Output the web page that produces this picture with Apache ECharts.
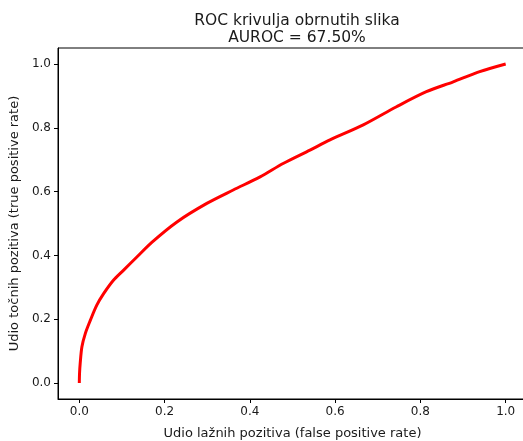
<!DOCTYPE html>
<html>
<head>
<meta charset="utf-8">
<script src="https://cdn.jsdelivr.net/npm/echarts@6/dist/echarts.min.js"></script>
<style>
html,body{margin:0;padding:0;background:#fff;}
#chart{width:523px;height:441px;}
</style>
</head>
<body>
<div id="chart"></div>
<script>
const titleLines = ["ROC krivulja obrnutih slika", "AUROC = 67.50%"];
const xAxisName = "Udio lažnih pozitiva (false positive rate)";
const yAxisName = "Udio točnih pozitiva (true positive rate)";
const fpr = [0, 0.0005, 0.002, 0.006, 0.014, 0.026, 0.041, 0.057, 0.08, 0.104, 0.135, 0.17, 0.229, 0.299, 0.361, 0.424, 0.478, 0.541, 0.588, 0.666, 0.744, 0.814, 0.877, 0.939, 1.0];
const tpr = [0, 0.03, 0.061, 0.113, 0.155, 0.197, 0.244, 0.28, 0.322, 0.354, 0.395, 0.441, 0.505, 0.563, 0.605, 0.646, 0.688, 0.73, 0.762, 0.809, 0.866, 0.913, 0.944, 0.976, 1.0];
const ticks = [0, 0.2, 0.4, 0.6, 0.8, 1.0];

const font = "DejaVu Sans";
const txt = "#1a1a1a";
const chart = echarts.init(document.getElementById('chart'), null, {renderer: 'canvas'});
const axisCommon = {
  type: 'value',
  min: -0.05, max: 1.05,
  nameLocation: 'middle',
  nameTextStyle: {fontFamily: font, fontSize: 13, color: txt},
  axisLine: {show: true, onZero: false, lineStyle: {color: '#000', width: 1}},
  axisTick: {show: true, length: 4, lineStyle: {color: '#000', width: 1}, customValues: ticks},
  axisLabel: {fontFamily: font, fontSize: 12, color: txt, margin: 7, customValues: ticks,
    formatter: v => v.toFixed(1)},
  splitLine: {show: false}
};
chart.setOption({
  animation: false,
  backgroundColor: '#fff',
  title: {
    text: titleLines.join('\n'),
    left: 292, top: 7, textAlign: 'center',
    textStyle: {fontFamily: font, fontSize: 15.5, fontWeight: 'normal', color: txt, lineHeight: 17}
  },
  grid: {left: 58, width: 469, top: 48, height: 351, containLabel: false, outerBoundsMode: 'none',
    show: true, borderColor: '#000', borderWidth: 1, backgroundColor: 'transparent'},
  xAxis: Object.assign({}, axisCommon, {name: xAxisName, nameGap: 28}),
  yAxis: Object.assign({}, axisCommon, {name: yAxisName, nameGap: 37}),
  series: [{
    type: 'line',
    data: fpr.map((x, i) => [x, tpr[i]]),
    showSymbol: false,
    smooth: 0.3,
    lineStyle: {color: '#ff0000', width: 3},
    z: 3
  }]
});
</script>
</body>
</html>
